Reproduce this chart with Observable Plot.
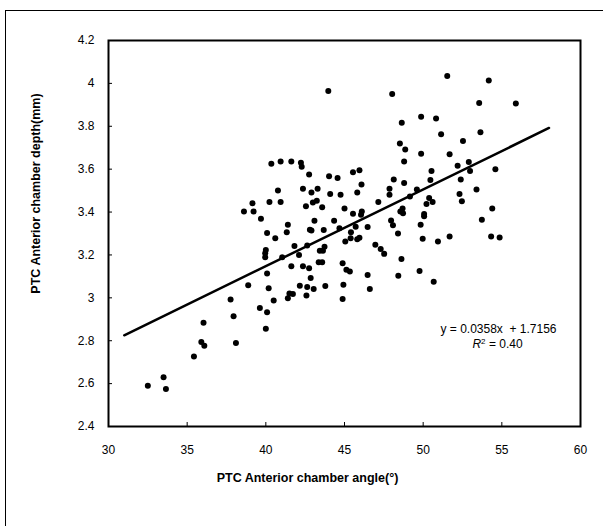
<!DOCTYPE html>
<html>
<head>
<meta charset="utf-8">
<script src="https://cdn.jsdelivr.net/npm/d3@7"></script>
<script src="https://cdn.jsdelivr.net/npm/@observablehq/plot@0.6"></script>
<style>
  html, body { margin: 0; padding: 0; background: #fff; overflow: hidden; }
  #wrap { position: relative; width: 603px; height: 526px; }
  #border { position: absolute; left: 5px; top: 10px; width: 640px; height: 560px; border: 1.5px solid #000; box-sizing: border-box; }
  #chart { position: absolute; left: 0; top: 0; }
</style>
</head>
<body>
<div id="wrap"><div id="border"></div><div id="chart"></div></div>
<script>
const angle = [32.5,33.5,33.65,35.43,35.9,36.04,36.09,37.76,37.95,38.1,38.61,38.88,39.15,39.22,39.62,39.69,39.96,39.96,40.0,40.08,40.08,40.08,40.0,40.18,40.23,40.35,40.5,40.6,40.77,40.94,40.94,41.04,41.33,41.4,41.4,41.5,41.62,41.62,41.72,41.82,42.11,42.16,42.23,42.28,42.36,42.36,42.55,42.58,42.63,42.63,42.75,42.75,42.8,42.85,42.9,42.9,42.99,43.04,43.09,43.24,43.29,43.36,43.43,43.58,43.58,43.63,43.68,43.73,43.78,43.97,44.02,44.09,44.34,44.56,44.68,44.75,44.88,44.93,44.88,45.0,45.05,45.12,45.34,45.39,45.41,45.54,45.54,45.71,45.81,45.81,45.95,45.95,46.05,46.08,46.1,46.47,46.47,46.61,46.96,47.15,47.3,47.52,47.86,47.86,47.96,48.03,48.08,48.13,48.4,48.42,48.52,48.55,48.64,48.62,48.69,48.72,48.79,48.79,48.86,49.16,49.6,49.77,49.84,49.87,49.87,49.97,50.06,50.06,50.21,50.38,50.46,50.53,50.6,50.67,50.82,50.94,51.14,51.53,51.68,51.68,52.19,52.31,52.39,52.46,52.53,52.9,52.98,53.39,53.56,53.64,53.73,54.17,54.32,54.39,54.59,54.86,55.89];
const depth = [2.59,2.63,2.575,2.727,2.794,2.884,2.777,2.992,2.914,2.789,3.403,3.059,3.441,3.403,2.953,3.369,3.189,3.208,3.223,3.302,3.113,2.933,2.856,3.045,3.447,3.625,2.988,3.278,3.5,3.636,3.447,3.189,3.306,3.341,2.998,3.02,3.636,3.147,3.018,3.242,3.2,3.056,3.63,3.611,3.509,3.147,3.427,3.011,3.244,3.05,3.575,3.138,3.317,3.092,3.491,3.314,3.445,3.041,3.359,3.453,3.509,3.166,3.219,3.166,3.422,3.219,3.316,3.238,3.055,3.964,3.567,3.484,3.359,3.559,3.325,3.481,3.161,3.061,2.995,3.416,3.263,3.131,3.123,3.278,3.306,3.586,3.392,3.331,3.491,3.273,3.595,3.28,3.388,3.528,3.403,3.33,3.106,3.041,3.247,3.447,3.228,3.205,3.509,3.481,3.361,3.95,3.338,3.552,3.3,3.103,3.72,3.403,3.817,3.181,3.416,3.394,3.636,3.536,3.692,3.473,3.505,3.125,3.341,3.672,3.845,3.275,3.381,3.391,3.438,3.466,3.55,3.591,3.447,3.075,3.836,3.263,3.763,4.034,3.669,3.286,3.616,3.484,3.552,3.45,3.731,3.633,3.591,3.505,3.909,3.772,3.364,4.013,3.286,3.417,3.6,3.281,3.906];

const slope = 0.0358;
const intercept = 1.7156;
const fitRange = [31, 58];
const xTicks = [30, 35, 40, 45, 50, 55, 60];
const yTicks = [2.4, 2.6, 2.8, 3, 3.2, 3.4, 3.6, 3.8, 4, 4.2];
const xTitle = "PTC Anterior chamber angle(°)";
const yTitle = "PTC Anterior chamber depth(mm)";
const eqLabel = "y = 0.0358x  + 1.7156";
const r2Label = "R2 = 0.40";

const points = angle.map((a, i) => ({angle: a, depth: depth[i]}));
const fit = fitRange.map(x => ({x, y: slope * x + intercept}));

const chart = Plot.plot({
  width: 603,
  height: 526,
  marginLeft: 108,
  marginRight: 23,
  marginTop: 40,
  marginBottom: 100,
  style: {fontFamily: "'Liberation Sans', Arial, sans-serif", fontSize: "12px", color: "#000", background: "transparent"},
  x: {domain: [30, 60]},
  y: {domain: [2.4, 4.2]},
  marks: [
    Plot.axisX(xTicks, {tickSize: -4, tickPadding: 23, label: null, tickFormat: d => String(d), fontSize: 12}),
    Plot.axisY(yTicks, {tickSize: -4, tickPadding: 18, label: null, tickFormat: d => String(d), fontSize: 12}),
    Plot.dot(points, {x: "angle", y: "depth", r: 3, fill: "#000", stroke: "none"}),
    Plot.line(fit, {x: "x", y: "y", stroke: "#000", strokeWidth: 2.5}),
    Plot.frame({stroke: "#000", strokeWidth: 2}),
    Plot.text([eqLabel], {frameAnchor: "bottom-right", dx: -82, dy: -94, textAnchor: "middle", fontSize: 12}),
    Plot.text([r2Label], {frameAnchor: "bottom-right", dx: -83, dy: -79, textAnchor: "middle", fontSize: 12}),
    Plot.text([xTitle], {frameAnchor: "bottom", dx: -37, dy: 51, textAnchor: "middle", lineAnchor: "middle", fontWeight: "bold", fontSize: 12.5}),
    Plot.text([yTitle], {frameAnchor: "left", dx: -73, dy: -40, rotate: -90, textAnchor: "middle", lineAnchor: "middle", fontWeight: "bold", fontSize: 12.5})
  ]
});

d3.select(chart).selectAll("text").filter(function() { return this.textContent === r2Label; }).each(function() {
  const t = d3.select(this);
  t.text(null);
  t.append("tspan").attr("font-style", "italic").text("R");
  t.append("tspan").attr("font-size", "8px").attr("dy", "-4").text("2");
  t.append("tspan").attr("dy", "4").text(" = 0.40");
});

document.getElementById("chart").appendChild(chart);
</script>
</body>
</html>
